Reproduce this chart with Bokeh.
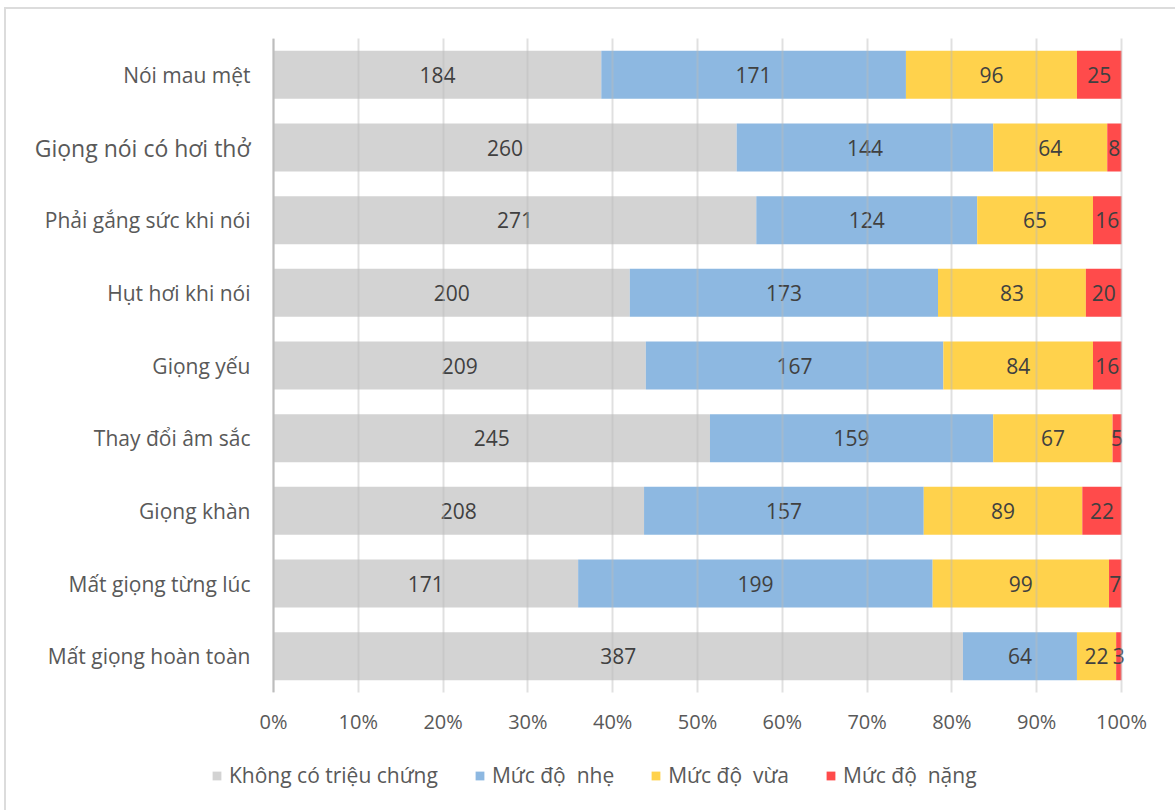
from bokeh.plotting import figure
from bokeh.layouts import column
from bokeh.models import (FactorRange, ColumnDataSource, Span, FixedTicker,
                          NumeralTickFormatter, Legend, LegendItem)
from bokeh.embed import file_html
from bokeh.resources import INLINE
from bokeh.core.properties import value

# Symptom categories (top to bottom) and respondent counts per severity level
symptoms = ["Nói mau mệt", "Giọng nói có hơi thở", "Phải gắng sức khi nói", "Hụt hơi khi nói",
            "Giọng yếu", "Thay đổi âm sắc", "Giọng khàn", "Mất giọng từng lúc", "Mất giọng hoàn toàn"]
no_symptom = [184, 260, 271, 200, 209, 245, 208, 171, 387]
mild = [171, 144, 124, 173, 167, 159, 157, 199, 64]
moderate = [96, 64, 65, 83, 84, 67, 89, 99, 22]
severe = [25, 8, 16, 20, 16, 5, 22, 7, 3]
series_names = ["Không có triệu chứng", "Mức độ  nhẹ", "Mức độ  vừa", "Mức độ  nặng"]
colors = ["#D3D3D3", "#8DB8E1", "#FFD24C", "#FF4B4B"]
x_ticks = [0.0, 0.1, 0.2, 0.3, 0.4, 0.5, 0.6, 0.7, 0.8, 0.9, 1.0]
label_sizes = ["21px", "23px", "21px", "21px", "21px", "21px", "21px", "21px", "21px"]

FONT = "Open Sans"
series = [no_symptom, mild, moderate, severe]
keys = ["s0", "s1", "s2", "s3"]
totals = [sum(v) for v in zip(*series)]

data = {"cat": symptoms}
for k, vals in zip(keys, series):
    data[k] = [v / t for v, t in zip(vals, totals)]
src = ColumnDataSource(data)

# Segment labels centred in each stacked segment
lab = {"x": [], "y": [], "text": []}
for i, cat in enumerate(symptoms):
    left = 0.0
    for k, vals in zip(keys, series):
        frac = data[k][i]
        lab["x"].append(left + frac / 2)
        lab["y"].append(cat)
        lab["text"].append(str(vals[i]))
        left += frac
lab_src = ColumnDataSource(lab)

cat_src = ColumnDataSource({"x": [0.0] * len(symptoms), "y": symptoms, "text": symptoms,
                            "size": label_sizes})

# Frame geometry (pixels): 0% sits at PX0, 100% at PX1; the frame reaches further
# left so the category names are drawn inside it.
PX0, PX1 = 267, 1115
FRAME_L, FRAME_R = 14, 1134
FRAME_H = 654
W = 1169
scale = PX1 - PX0
x_start = -(PX0 - FRAME_L) / scale
x_end = 1 + (FRAME_R - PX1) / scale

p = figure(y_range=FactorRange(factors=list(reversed(symptoms)), range_padding=0),
           x_range=(x_start, x_end), frame_width=FRAME_R - FRAME_L, frame_height=FRAME_H,
           min_border_left=FRAME_L, min_border_right=W - FRAME_R,
           min_border_top=29, min_border_bottom=50,
           output_backend="svg", toolbar_location=None)
p.outline_line_color = None
p.background_fill_color = "white"
p.border_fill_color = "white"

renderers = p.hbar_stack(keys, y="cat", height=0.66, color=colors, line_color=None, source=src)

p.yaxis.visible = False
p.ygrid.grid_line_color = None

p.xaxis.ticker = FixedTicker(ticks=x_ticks)
p.xaxis.formatter = NumeralTickFormatter(format="0%")
p.xaxis.axis_line_color = None
p.xaxis.major_tick_line_color = None
p.xaxis.minor_tick_line_color = None
p.xaxis.major_label_text_font = FONT
p.xaxis.major_label_text_font_size = "20px"
p.xaxis.major_label_text_color = "#595959"
p.xaxis.major_label_standoff = 9

p.xgrid.ticker = FixedTicker(ticks=x_ticks)
p.xgrid.grid_line_color = "#BBBBBB"
p.xgrid.grid_line_alpha = 0.45
p.xgrid.grid_line_width = 2
p.xgrid.level = "overlay"

p.add_layout(Span(location=0, dimension="height", line_color="#BFBFBF", line_width=2))

p.text(x="x", y="y", text="text", source=lab_src, text_align="center",
       text_baseline="middle", text_font=value(FONT), text_font_size="21px",
       text_color="#404040")
p.text(x="x", y="y", text="text", source=cat_src, x_offset=-23,
       text_align="right", text_baseline="middle", text_font=value(FONT),
       text_font_size="size", text_color="#595959")

# Legend strip underneath the chart; its swatch glyphs sit outside the visible range
LEG_H = 68
leg = figure(width=W, height=LEG_H, min_border=0, output_backend="svg",
             toolbar_location=None, x_range=(0, 1), y_range=(0, 1))
leg.axis.visible = False
leg.grid.grid_line_color = None
leg.outline_line_color = None
swatches = [leg.hbar(y=[-10], left=[0], right=[1], height=1, color=c, line_color=None)
            for c in colors]
legend = Legend(items=[LegendItem(label=n, renderers=[r]) for n, r in zip(series_names, swatches)],
                orientation="horizontal", location=(191, 21),
                label_text_font=FONT, label_text_font_size="21px", label_text_color="#595959",
                glyph_width=11, glyph_height=11, label_standoff=7, spacing=36,
                border_line_color=None, background_fill_alpha=0, padding=0, margin=0)
leg.add_layout(legend)

page = column(p, leg, spacing=0)
page.margin = (7, 0, 0, 4)
page.styles = {"border-top": "2px solid #DCDCDC", "border-left": "2px solid #DCDCDC"}

open("out.html", "w").write(file_html(page, INLINE))
